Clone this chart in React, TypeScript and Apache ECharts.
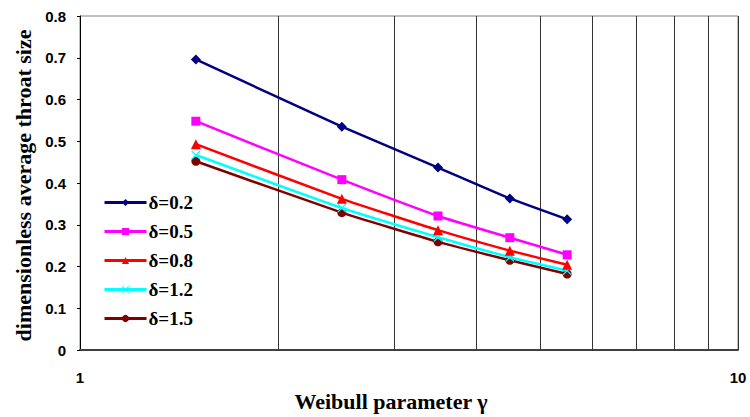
import React, { useEffect, useRef } from "react";
import * as echarts from "echarts";

const gammaValues = [1.5, 2.5, 3.5, 4.5, 5.5];
const seriesNames = ["δ=0.2", "δ=0.5", "δ=0.8", "δ=1.2", "δ=1.5"];
const d02 = [0.696, 0.535, 0.437, 0.363, 0.313];
const d05 = [0.548, 0.408, 0.321, 0.269, 0.228];
const d08 = [0.493, 0.362, 0.287, 0.238, 0.204];
const d12 = [0.467, 0.34, 0.27, 0.222, 0.19];
const d15 = [0.452, 0.329, 0.259, 0.215, 0.182];
const gridLinesAt = [2, 3, 4, 5, 6, 7, 8, 9, 10];
const colors = ["#000080", "#FF00FF", "#FF0000", "#00FFFF", "#800000"];
const crossPath =
  "path://M0,1L1,0L5,4L9,0L10,1L6,5L10,9L9,10L5,6L1,10L0,9L4,5Z";
const symbols = ["diamond", "rect", "triangle", crossPath, "circle"];
const symbolSizes = [10, 9, 10, 9, 9];

export default function App() {
  const ref = useRef<HTMLDivElement>(null);
  useEffect(() => {
    if (!ref.current) return;
    const chart = echarts.init(ref.current, null, { renderer: "svg" });
    const all = [d02, d05, d08, d12, d15];
    const series: any[] = all.map((vals, i) => ({
      name: seriesNames[i],
      type: "line",
      data: gammaValues.map((g, j) => [g, vals[j]]),
      smooth: 0.15,
      symbol: symbols[i],
      symbolSize: symbolSizes[i],
      lineStyle: { color: colors[i], width: 2.5 },
      itemStyle: { color: colors[i] },
      z: 10 - i,
    }));
    series.push({
      type: "line",
      data: [],
      silent: true,
      markLine: {
        silent: true,
        symbol: "none",
        label: { show: false },
        lineStyle: { color: "#333", width: 1, type: "solid" },
        data: gridLinesAt.map((v) => ({ xAxis: v })),
      },
    });
    chart.setOption({
      animation: false,
      backgroundColor: "#fff",
      grid: {
        left: 80,
        right: 12,
        top: 16,
        bottom: 62,
        show: true,
        borderColor: "#808080",
        borderWidth: 1,
      },
      legend: {
        data: seriesNames,
        orient: "vertical",
        left: 98,
        top: 188,
        itemGap: 10,
        itemWidth: 42,
        itemHeight: 9,
        lineStyle: { width: 3 },
        textStyle: {
          fontFamily: "Liberation Serif",
          fontWeight: "bold",
          fontSize: 19,
          lineHeight: 19,
          color: "#000",
          padding: [0, 0, 0, -3],
        },
      },
      xAxis: {
        type: "log",
        logBase: 10,
        min: 1,
        max: 10,
        name: "Weibull parameter γ",
        nameLocation: "middle",
        nameGap: 40,
        nameTextStyle: {
          fontFamily: "Liberation Serif",
          fontWeight: "bold",
          fontSize: 22,
          color: "#000",
          padding: [0, 36, 0, 0],
        },
        axisLine: { lineStyle: { color: "#404040", width: 2 } },
        axisTick: { show: false },
        splitLine: { show: false },
        axisLabel: {
          margin: 20,
          fontFamily: "Liberation Sans",
          fontWeight: "bold",
          fontSize: 15,
          color: "#000",
        },
      },
      yAxis: {
        type: "value",
        min: 0,
        max: 0.8,
        interval: 0.1,
        name: "dimensionless average throat size",
        nameLocation: "middle",
        nameGap: 46,
        nameTextStyle: {
          fontFamily: "Liberation Serif",
          fontWeight: "bold",
          fontSize: 22,
          color: "#000",
          padding: [0, 5, 0, 0],
        },
        axisLine: { show: true, lineStyle: { color: "#000", width: 1 } },
        axisTick: { show: true, length: 3, lineStyle: { color: "#000" } },
        splitLine: { show: false },
        axisLabel: {
          margin: 14,
          fontFamily: "Liberation Sans",
          fontWeight: "bold",
          fontSize: 15,
          color: "#000",
          formatter: (v: number) => (v === 0 ? "0" : v.toFixed(1)),
        },
      },
      series,
    });
    return () => chart.dispose();
  }, []);
  return (
    <div
      ref={ref}
      style={{ position: "absolute", left: 0, top: 0, width: 750, height: 417 }}
    />
  );
}
